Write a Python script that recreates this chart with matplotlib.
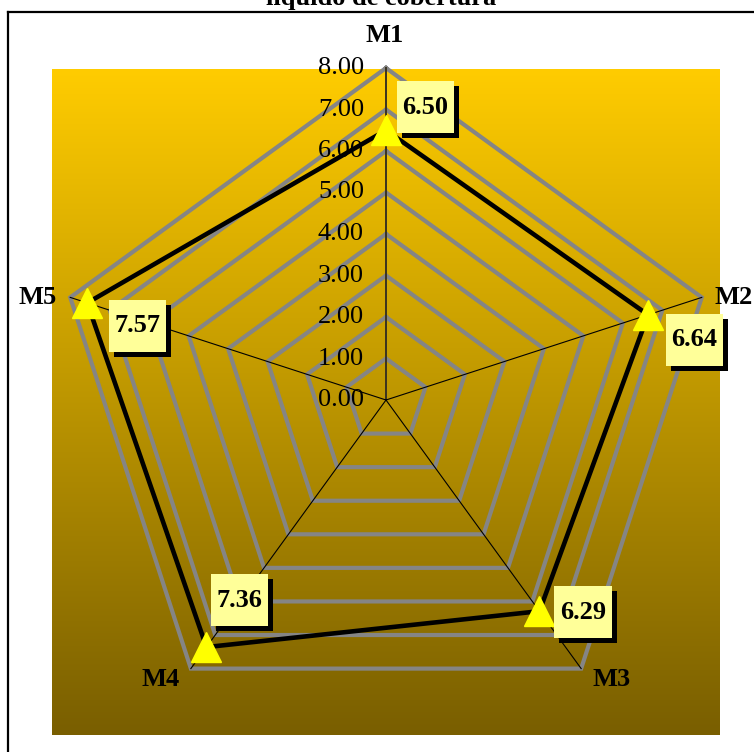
import numpy as np
import matplotlib
matplotlib.use("Agg")
import matplotlib.pyplot as plt
import matplotlib.patheffects as pe
from matplotlib.path import Path
from matplotlib.lines import Line2D

# ---- data ----
categories = ["M1", "M2", "M3", "M4", "M5"]
values = [6.50, 6.64, 6.29, 7.36, 7.57]
r_ticks = [0, 1, 2, 3, 4, 5, 6, 7, 8]
tick_labels = ["0.00", "1.00", "2.00", "3.00", "4.00", "5.00", "6.00", "7.00", "8.00"]
title = "líquido de cobertura"

W, H = 754, 752
SERIF = "Liberation Serif"
FS = 19

fig = plt.figure(figsize=(W / 100, H / 100), dpi=100)
fig.patch.set_facecolor("white")


def px_rect(x0, y0, w, h):
    """Pixel box (top-left origin) -> figure fraction rect."""
    return [x0 / W, 1 - (y0 + h) / H, w / W, h / H]


# gradient plot area
bg = fig.add_axes(px_rect(52, 69, 668, 666))
top = np.array([1.0, 0.80, 0.0])
bottom = np.array([0.475, 0.37, 0.0])
g = np.linspace(0, 1, 512)[:, None, None]
img = top * (1 - g) + bottom * g
bg.imshow(img, aspect="auto", extent=[0, 1, 0, 1], interpolation="bilinear")
bg.axis("off")

# radar axes
ax = fig.add_axes(px_rect(54, 68, 664, 664), projection="polar")
ax.set_theta_offset(np.pi / 2)
ax.set_theta_direction(-1)
ax.set_ylim(0, 8)
ax.patch.set_visible(False)
ax.spines["polar"].set_visible(False)
ax.grid(False)
ax.set_xticks([])
ax.set_yticks([])

n = len(categories)
theta = np.arange(n) * 2 * np.pi / n
theta_c = np.append(theta, theta[0])
values_c = np.append(values, values[0])

# polygon gridlines
for r in r_ticks[1:]:
    ax.plot(theta_c, [r] * (n + 1), color="#858585", lw=3.0, zorder=2,
            solid_joinstyle="miter", clip_on=False)

# spokes
for i, t in enumerate(theta):
    ax.plot([t, t], [0, r_ticks[-1]], color="#3a3320" if i == 0 else "black",
            lw=1.4 if i == 0 else 0.8, zorder=3, clip_on=False)

# radial tick labels along the first spoke
for r, lab in zip(r_ticks, tick_labels):
    ax.annotate(lab, xy=(0, r), xytext=(-22, 0), textcoords="offset pixels",
                ha="right", va="center", fontsize=FS, family=SERIF, zorder=3,
                annotation_clip=False)

# data series
ax.plot(theta_c, values_c, color="black", lw=3.3, zorder=4,
        solid_joinstyle="miter", clip_on=False)
ax.plot(theta, values, ls="none", marker="^", ms=21, mfc="#FFFF00",
        mec="#FFFF00", zorder=5, clip_on=False)

# category labels
cat_offsets = [(-1, 32, "center"), (13, 0, "left"), (30, -11, "center"),
               (-30, -11, "center"), (-13, 0, "right")]
for t, name, (dx, dy, ha) in zip(theta, categories, cat_offsets):
    ax.annotate(name, xy=(t, r_ticks[-1]), xytext=(dx, dy),
                textcoords="offset pixels", ha=ha, va="center",
                fontsize=FS, fontweight="bold", family=SERIF,
                annotation_clip=False)


def label_box(x0, y0, width, height, mutation_size):
    padx = 0.21 * mutation_size
    pady = 0.55 * mutation_size
    verts = [(x0 - padx, y0 - pady), (x0 + width + padx, y0 - pady),
             (x0 + width + padx, y0 + height + pady),
             (x0 - padx, y0 + height + pady), (x0 - padx, y0 - pady)]
    return Path(verts, closed=True)


# value labels with drop shadow
val_offsets = [(16.5, 23), (23.5, -25), (20.5, -1), (10.5, 47), (27.5, -23)]
for t, v, (dx, dy) in zip(theta, values, val_offsets):
    txt = ax.annotate(f"{v:.2f}", xy=(t, v), xytext=(dx, dy),
                      textcoords="offset pixels", ha="left", va="center",
                      fontsize=FS, fontweight="bold", family=SERIF, zorder=6,
                      annotation_clip=False,
                      bbox=dict(boxstyle=label_box, fc="#FFFF99", ec="none"))
    txt.get_bbox_patch().set_path_effects([
        pe.SimplePatchShadow(offset=(3.6, -3.6), shadow_rgbFace="black", alpha=1.0),
        pe.Normal()])

# title (top line runs off the figure)
fig.text(381 / W, 1 - 5 / H, title, ha="center", va="baseline", fontsize=FS,
         fontweight="bold", family=SERIF)

# chart border (top and left edges)
fig.add_artist(Line2D([8 / W, 1.0], [1 - 12 / H] * 2, transform=fig.transFigure,
                      color="black", lw=1.6))
fig.add_artist(Line2D([8 / W] * 2, [0.0, 1 - 12 / H], transform=fig.transFigure,
                      color="black", lw=1.6))

fig.savefig("out.png", dpi=100)
